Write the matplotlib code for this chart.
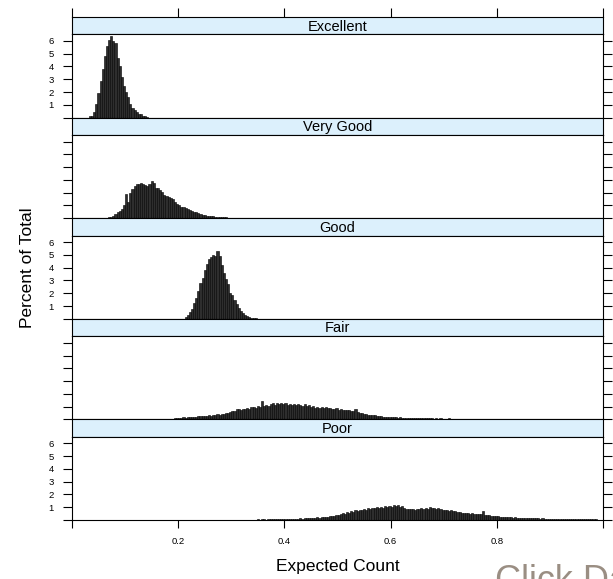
import numpy as np
import matplotlib.pyplot as plt

plt.rcParams['font.family'] = ['Liberation Sans', 'DejaVu Sans']

# histogram bins: width and centre of first bin
BIN_W = 0.004
FIRST_CENTER = 0.022

panels = ['Excellent', 'Very Good', 'Good', 'Fair', 'Poor']

# first bin index for each panel, then the bar heights (percent of total)
excellent_start = 3
excellent = [0.1, 0.15, 0.45, 1.1, 1.9, 2.9, 3.8, 4.8, 5.6, 6.1, 6.4, 6.0, 5.8, 4.7,
             4.0, 3.2, 2.5, 2.0, 1.6, 1.1, 0.75, 0.6, 0.42, 0.3, 0.28, 0.15, 0.1, 0.05]

very_good_start = 10
very_good = [0.03, 0.05, 0.08, 0.12, 0.2, 0.3, 0.45, 0.6, 0.75, 1.0, 1.9, 1.3, 2.0, 2.3,
             2.55, 2.65, 2.7, 2.75, 2.7, 2.6, 2.55, 2.7, 2.95, 2.75, 2.4, 2.35, 2.2, 2.05,
             1.85, 1.75, 1.65, 1.55, 1.5, 1.3, 1.1, 1.0, 0.9, 0.85, 0.78, 0.7, 0.62, 0.58,
             0.5, 0.45, 0.4, 0.33, 0.28, 0.24, 0.2, 0.18, 0.16, 0.14, 0.12, 0.1, 0.1, 0.08,
             0.07, 0.06, 0.05, 0.05, 0.04, 0.04, 0.03, 0.03, 0.03, 0.02, 0.02, 0.02, 0.02,
             0.01, 0.02, 0.01, 0.01, 0.0, 0.01, 0.01, 0.0, 0.01, 0.0, 0.01]

good_start = 48
good = [0.15, 0.3, 0.5, 0.8, 1.2, 1.6, 2.2, 2.8, 3.2, 3.8, 4.3, 4.7, 4.8, 5.0, 4.9, 5.3,
        4.9, 4.2, 3.6, 3.1, 2.7, 2.0, 1.9, 1.5, 1.15, 0.85, 0.6, 0.42, 0.3, 0.2, 0.13,
        0.08, 0.06, 0.03]

fair_start = 37
fair = [0.02, 0.03, 0.02, 0.04, 0.05, 0.06, 0.08, 0.10, 0.12, 0.11, 0.15, 0.14, 0.18,
        0.17, 0.20, 0.22, 0.19, 0.25, 0.24, 0.28, 0.26, 0.30, 0.33, 0.29, 0.36, 0.34,
        0.40, 0.37, 0.43, 0.41, 0.48, 0.52, 0.58, 0.66, 0.62, 0.78, 0.85, 0.74, 0.83,
        0.80, 0.88, 0.79, 0.94, 0.99, 0.91, 1.02, 0.97, 1.42, 1.08, 1.12, 1.05, 1.18,
        1.26, 1.15, 1.30, 1.22, 1.27, 1.19, 1.31, 1.16, 1.24, 1.12, 1.20, 1.09, 1.18,
        1.14, 1.06, 1.17, 1.03, 1.10, 0.98, 1.04, 0.93, 0.99, 0.90, 0.96, 0.88, 0.94,
        0.86, 0.91, 0.84, 0.80, 0.87, 0.76, 0.79, 0.72, 0.75, 0.70, 0.73, 0.66, 0.64,
        0.82, 0.55, 0.50, 0.47, 0.44, 0.41, 0.36, 0.34, 0.31, 0.33, 0.28, 0.30, 0.25,
        0.22, 0.21, 0.19, 0.20, 0.17, 0.18, 0.15, 0.14, 0.16, 0.13, 0.12, 0.14, 0.11,
        0.12, 0.10, 0.13, 0.09, 0.11, 0.10, 0.09, 0.10, 0.08, 0.09, 0.08, 0.07, 0.09,
        0.07, 0.08, 0.06, 0.07, 0.06, 0.08, 0.05, 0.06, 0.06, 0.05, 0.07, 0.05, 0.06,
        0.04, 0.05, 0.05, 0.04, 0.06, 0.04, 0.04, 0.05, 0.03, 0.04, 0.03, 0.04, 0.03,
        0.03, 0.04, 0.02, 0.03, 0.03, 0.02, 0.03, 0.02, 0.03, 0.02, 0.02, 0.03, 0.02,
        0.01, 0.02, 0.02, 0.01, 0.02, 0.01, 0.02, 0.01, 0.01, 0.02, 0.01, 0.01, 0.01,
        0.02, 0.01, 0.01, 0.00, 0.01, 0.01, 0.00, 0.01, 0.00, 0.01, 0.00, 0.01, 0.00,
        0.01, 0.00, 0.00, 0.01, 0.00, 0.01]

poor_start = 70
poor = [0.01, 0.02, 0.01, 0.02, 0.01, 0.02, 0.02, 0.03, 0.02, 0.03, 0.03, 0.02, 0.04,
        0.03, 0.04, 0.04, 0.03, 0.05, 0.04, 0.05, 0.06, 0.05, 0.07, 0.06, 0.08, 0.07,
        0.09, 0.08, 0.10, 0.09, 0.11, 0.10, 0.12, 0.11, 0.13, 0.12, 0.15, 0.14, 0.17,
        0.16, 0.20, 0.19, 0.24, 0.22, 0.27, 0.26, 0.31, 0.34, 0.32, 0.40, 0.38, 0.46,
        0.51, 0.48, 0.60, 0.57, 0.72, 0.66, 0.79, 0.74, 0.82, 0.77, 0.85, 0.80, 0.95,
        0.88, 0.97, 0.91, 0.99, 0.93, 1.02, 0.96, 1.08, 1.01, 1.12, 1.05, 1.17, 1.09,
        1.21, 1.04, 1.10, 0.92, 0.88, 0.84, 0.90, 0.85, 0.82, 0.87, 0.84, 0.91, 0.86,
        0.95, 0.90, 0.98, 0.92, 0.96, 0.89, 0.93, 0.84, 0.80, 0.76, 0.79, 0.72, 0.75,
        0.68, 0.71, 0.64, 0.60, 0.56, 0.58, 0.53, 0.55, 0.50, 0.52, 0.47, 0.49, 0.44,
        0.46, 0.68, 0.40, 0.38, 0.36, 0.34, 0.35, 0.31, 0.30, 0.27, 0.25, 0.23, 0.24,
        0.21, 0.22, 0.19, 0.20, 0.18, 0.19, 0.17, 0.16, 0.18, 0.15, 0.14, 0.15, 0.13,
        0.12, 0.13, 0.11, 0.12, 0.10, 0.11, 0.10, 0.09, 0.10, 0.08, 0.09, 0.08, 0.09,
        0.07, 0.08, 0.07, 0.08, 0.06, 0.07, 0.06, 0.07, 0.05, 0.06, 0.05, 0.06, 0.04,
        0.05, 0.04, 0.04, 0.03, 0.03]

series = [(excellent_start, excellent), (very_good_start, very_good),
          (good_start, good), (fair_start, fair), (poor_start, poor)]

x_ticks = [0.0, 0.2, 0.4, 0.6, 0.8, 1.0]
x_labels = ['', '0.2', '0.4', '0.6', '0.8', '']
y_ticks = [0, 1, 2, 3, 4, 5, 6]
y_labels = ['', '1', '2', '3', '4', '5', '6']

W, H = 613, 579
fig = plt.figure(figsize=(W / 100, H / 100), dpi=100)


def rect(x0, y0, x1, y1):
    return [x0 / W, 1 - y1 / H, (x1 - x0) / W, (y1 - y0) / H]


LEFT, RIGHT = 72, 603
TOP0, PERIOD, STRIP_H, PANEL_H = 17, 100.6, 17.3, 83.3
STRIP_COL = '#dcf0fc'

for k, (name, (start, vals)) in enumerate(zip(panels, series)):
    st = TOP0 + PERIOD * k
    sb = st + STRIP_H
    pb = sb + PANEL_H

    sax = fig.add_axes(rect(LEFT, st, RIGHT, sb))
    sax.set_facecolor(STRIP_COL)
    sax.set_xlim(0, 1)
    sax.set_yticks([])
    sax.text(0.5, 0.45, name, ha='center', va='center', fontsize=10.5,
             transform=sax.transAxes)
    if k == 0:
        sax.set_xticks(x_ticks)
        sax.set_xticklabels([])
        sax.tick_params(axis='x', top=True, bottom=False, direction='out',
                        length=6.5, width=0.8)
    else:
        sax.set_xticks([])
    for s in sax.spines.values():
        s.set_linewidth(0.8)

    ax = fig.add_axes(rect(LEFT, sb, RIGHT, pb))
    centers = FIRST_CENTER + BIN_W * (start + np.arange(len(vals)))
    ax.bar(centers, vals, width=BIN_W, color='#2e2e2e', edgecolor='#000000',
           linewidth=0.4)
    ax.set_xlim(0, 1)
    ax.set_ylim(0, 6.52)
    ax.set_yticks(y_ticks)
    ax.set_yticklabels(y_labels if k % 2 == 0 else [''] * len(y_ticks))
    ax.tick_params(axis='y', left=True, right=True, direction='out', length=6.5,
                   width=0.8, labelsize=6.8, pad=6.5)
    if k == len(panels) - 1:
        ax.set_xticks(x_ticks)
        ax.set_xticklabels(x_labels)
        ax.tick_params(axis='x', direction='out', length=6, width=0.8,
                       labelsize=6.8, pad=6.5)
    else:
        ax.set_xticks([])
    for s in ax.spines.values():
        s.set_linewidth(0.8)

fig.text((LEFT + RIGHT) / 2 / W, 1 - 567 / H, 'Expected Count', ha='center',
         va='center', fontsize=12.5)
fig.text(28 / W, 1 - 268 / H, 'Percent of Total', ha='center', va='center',
         rotation=90, fontsize=12.5)
fig.text(495 / W, 1 - 564 / H, 'Click Data', ha='left', va='top', fontsize=26,
         color='#9a8e83')

fig.savefig('out.png', dpi=100)
